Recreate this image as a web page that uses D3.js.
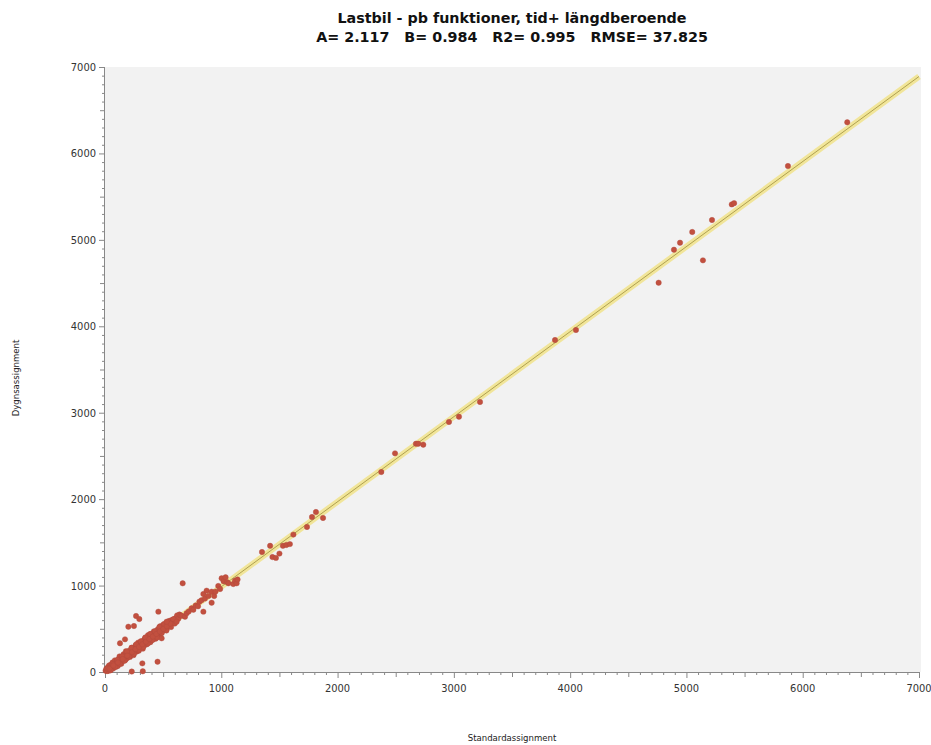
<!DOCTYPE html>
<html>
<head>
<meta charset="utf-8">
<script src="https://cdn.jsdelivr.net/npm/d3@7"></script>
<style>
  html, body { margin: 0; padding: 0; background: #ffffff; }
  svg { display: block; }
</style>
</head>
<body>
<svg id="chart" width="931" height="745"></svg>
<script>
// Regression summary shown in the title
const titleLines = [
  "Lastbil - pb funktioner, tid+ längdberoende",
  "A= 2.117   B= 0.984   R2= 0.995   RMSE= 37.825"
];
const fitA = 2.117;
const fitB = 0.984;

const xLabel = "Standardassignment";
const yLabel = "Dygnsassignment";
const majorTicks = [0, 1000, 2000, 3000, 4000, 5000, 6000, 7000];

// Link volumes: standard assignment (x) vs. daily assignment (y)
const standardVals = [
  5, 12, 18, 25, 30, 35, 40, 45, 50, 55, 60, 65, 70, 75, 80, 85, 90, 95, 100, 105,
  110, 115, 120, 125, 130, 135, 140, 145, 150, 155, 160, 165, 170, 175, 180, 185, 190, 195, 200, 205,
  210, 215, 220, 225, 230, 235, 240, 245, 250, 255, 260, 265, 270, 275, 280, 285, 290, 295, 300, 305,
  310, 315, 320, 325, 330, 335, 340, 345, 350, 355, 360, 365, 370, 375, 380, 385, 390, 395, 400, 405,
  410, 415, 420, 425, 430, 435, 440, 445, 450, 455, 460, 465, 470, 475, 480, 485, 490, 495, 500, 510,
  520, 530, 540, 550, 560, 570, 580, 590, 600, 610, 620, 630, 640, 650,
  22, 48, 68, 88, 108, 128, 148, 168, 188, 208, 228, 248, 268, 288, 308, 328, 348, 368, 388, 408,
  428, 448, 468, 488, 508, 528, 548, 568, 588,
  38, 72, 112, 152, 192, 232, 262, 292, 322, 352, 382, 412, 442, 472, 502, 532, 562,
  616, 660, 688, 702, 720, 745, 760, 780, 800, 812, 830, 846, 846, 860, 874, 890, 917, 917, 939, 950,
  974, 990, 1003, 1020, 1037, 1050, 1061, 1103, 1118, 1132, 1140,
  668, 459, 267, 295, 201, 249, 172, 129, 452, 321, 230, 325, 487, 530,
  1350, 1420, 1440, 1470, 1500, 1530, 1560, 1590, 1620, 1737, 1780, 1814, 1875,
  2376, 2494, 2674, 2694, 2737, 2958, 3044, 3225, 3870, 4050,
  4761, 4893, 4945, 5050, 5142, 5220, 5390, 5410, 5873, 6383
];
const dailyVals = [
  15, 37, 10, 55, 15, 75, 45, 20, 85, 45, 80, 110, 40, 90, 60, 135, 90, 60, 125, 115,
  70, 145, 125, 180, 110, 150, 95, 180, 160, 130, 205, 160, 190, 140, 240, 185, 160, 220, 185, 245,
  215, 175, 250, 215, 280, 210, 255, 195, 285, 255, 240, 310, 235, 295, 275, 340, 245, 305, 330, 275,
  350, 300, 340, 270, 335, 370, 310, 395, 340, 380, 320, 380, 425, 355, 380, 415, 345, 440, 395, 425,
  375, 425, 470, 410, 455, 385, 475, 445, 425, 495, 450, 485, 430, 530, 485, 455, 520, 475, 545, 505,
  545, 495, 550, 590, 540, 600, 570, 610, 560, 625, 655, 615, 665, 655,
  40, 20, 90, 60, 140, 95, 180, 130, 235, 180, 280, 210, 320, 255, 355, 290, 400, 330, 440, 370,
  470, 400, 520, 450, 555, 480, 580, 520, 610,
  38, 75, 110, 150, 190, 230, 265, 290, 320, 350, 380, 410, 440, 470, 500, 530, 560,
  582, 650, 640, 679, 700, 737, 720, 770, 760, 814, 830, 902, 698, 850, 941, 880, 929, 802, 879, 930,
  995, 960, 1084, 1050, 1096, 1040, 1026, 1018, 1056, 1026, 1070,
  1026, 698, 648, 613, 524, 532, 378, 332, 119, 100, 5, 8, 390, 582,
  1388, 1460, 1330, 1320, 1370, 1460, 1470, 1480, 1590, 1678, 1793, 1851, 1782,
  2314, 2530, 2641, 2641, 2630, 2893, 2954, 3124, 3841, 3957,
  4504, 4886, 4967, 5091, 4763, 5230, 5410, 5425, 5854, 6360
];

const svg = d3.select("#chart");
const margin = { left: 105, top: 67 };
const plotW = 814, plotH = 605;

const x = d3.scaleLinear().domain([0, 7000]).range([margin.left, margin.left + plotW]);
const y = d3.scaleLinear().domain([0, 7000]).range([margin.top + plotH, margin.top]);

const tickFont = "Tahoma, 'DejaVu Sans Condensed', 'Liberation Sans', sans-serif";

// Plot background
svg.append("rect")
  .attr("x", margin.left).attr("y", margin.top)
  .attr("width", plotW + 2).attr("height", plotH)
  .attr("fill", "#f2f2f2");

// Title
const title = svg.append("text")
  .attr("text-anchor", "middle")
  .attr("font-family", "Verdana, 'DejaVu Sans', sans-serif")
  .attr("font-weight", "bold")
  .attr("font-size", 14.3)
  .attr("fill", "#111");
title.selectAll("tspan").data(titleLines).join("tspan")
  .attr("x", 512)
  .attr("y", (d, i) => 23 + i * 19)
  .style("white-space", "pre")
  .text(d => d);

// Axes with minor ticks every 100
const minorTicks = d3.range(0, 7001, 100);
function tickLen(v) { return v % 1000 === 0 ? 6 : (v % 500 === 0 ? 5 : 3); }

const axisColor = "#888";
const gx = svg.append("g");
gx.append("line")
  .attr("x1", x(0)).attr("x2", x(7000))
  .attr("y1", y(0) + 0.5).attr("y2", y(0) + 0.5)
  .attr("stroke", axisColor);
gx.selectAll("line.t").data(minorTicks).join("line")
  .attr("class", "t")
  .attr("x1", d => x(d) + 0.5).attr("x2", d => x(d) + 0.5)
  .attr("y1", y(0)).attr("y2", d => y(0) + tickLen(d))
  .attr("stroke", axisColor);
gx.selectAll("text").data(majorTicks).join("text")
  .attr("x", d => x(d)).attr("y", y(0) + 20)
  .attr("text-anchor", "middle")
  .attr("font-family", tickFont)
  .attr("font-size", 11)
  .attr("fill", "#333")
  .text(d => d);

const gy = svg.append("g");
gy.append("line")
  .attr("x1", x(0) - 0.5).attr("x2", x(0) - 0.5)
  .attr("y1", y(0)).attr("y2", y(7000))
  .attr("stroke", axisColor);
gy.selectAll("line.t").data(minorTicks).join("line")
  .attr("class", "t")
  .attr("y1", d => y(d) + 0.5).attr("y2", d => y(d) + 0.5)
  .attr("x1", x(0)).attr("x2", d => x(0) - tickLen(d))
  .attr("stroke", axisColor);
gy.selectAll("text").data(majorTicks).join("text")
  .attr("x", x(0) - 9).attr("y", d => y(d) + 4)
  .attr("text-anchor", "end")
  .attr("font-family", tickFont)
  .attr("font-size", 11)
  .attr("fill", "#333")
  .text(d => d);

// Axis titles
svg.append("text")
  .attr("x", 512).attr("y", 741)
  .attr("text-anchor", "middle")
  .attr("font-family", tickFont)
  .attr("font-size", 9.5)
  .attr("fill", "#222")
  .text(xLabel);
svg.append("text")
  .attr("transform", "translate(19,378) rotate(-90)")
  .attr("text-anchor", "middle")
  .attr("font-family", tickFont)
  .attr("font-size", 9.5)
  .attr("fill", "#222")
  .text(yLabel);

// Fitted line y = A + B x
const fitLine = d3.line().x(d => x(d)).y(d => y(fitA + fitB * d));
const fitDomain = [0, 7000];
svg.append("path").datum(fitDomain)
  .attr("d", fitLine)
  .attr("fill", "none")
  .attr("stroke", "#f1e59a")
  .attr("stroke-width", 6);
svg.append("path").datum(fitDomain)
  .attr("d", fitLine)
  .attr("fill", "none")
  .attr("stroke", "#a89a45")
  .attr("stroke-width", 0.9);

// Scatter points
const points = standardVals.map((v, i) => [v, dailyVals[i]]);
svg.append("g").selectAll("circle").data(points).join("circle")
  .attr("cx", d => x(d[0]))
  .attr("cy", d => y(d[1]))
  .attr("r", 2.7)
  .attr("fill", "#c2503f")
  .attr("stroke", "#b04a3c")
  .attr("stroke-width", 0.4);
</script>
</body>
</html>
